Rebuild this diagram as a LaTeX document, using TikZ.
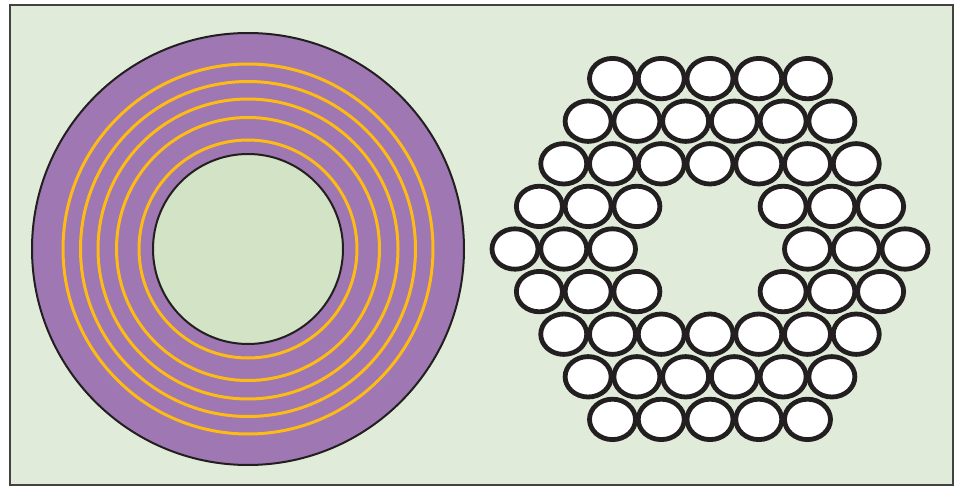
\documentclass[tikz,border=0pt]{standalone}
\definecolor{bgg}{HTML}{E0ECD9}
\definecolor{ing}{HTML}{D3E3C6}
\definecolor{pur}{HTML}{9E77B3}
\definecolor{yel}{HTML}{FDBB14}
\definecolor{dk}{HTML}{231F20}
\begin{document}
\begin{tikzpicture}[x=1pt,y=-1pt,
  ring/.style={draw=yel,line width=3pt},
  wire/.style={draw=dk,fill=white,line width=4.8pt}]
\useasboundingbox (0,0) rectangle (959,487);
\draw[fill=bgg,draw=dk!85,line width=2pt] (10,5) rectangle (953,485);
% left coil
\draw[fill=pur,draw=dk,line width=2pt] (248,249) circle [radius=216];
\foreach \r in {185,167.5,150,131.5,109}
  \draw[ring] (248,249) circle [radius=\r];
\draw[fill=ing,draw=dk,line width=2pt] (248,249) circle [radius=95];
% right bundle
\foreach \m in {-4,...,4}{
  \pgfmathtruncatemacro{\n}{9-abs(\m)}
  \pgfmathtruncatemacro{\last}{\n-1}
  \foreach \j in {0,...,\last}{
    \pgfmathsetmacro{\xx}{710+(\j-(\n-1)/2)*48.75}
    \pgfmathsetmacro{\yy}{249+\m*42.6}
    \pgfmathtruncatemacro{\skip}{(abs(\m)==1 && (\j==3 || \j==4)) || (\m==0 && \j>=3 && \j<=5) ? 1 : 0}
    \ifnum\skip=0
      \draw[wire] (\xx,\yy) ellipse [x radius=23, y radius=20.2];
    \fi
  }
}
\end{tikzpicture}
\end{document}
